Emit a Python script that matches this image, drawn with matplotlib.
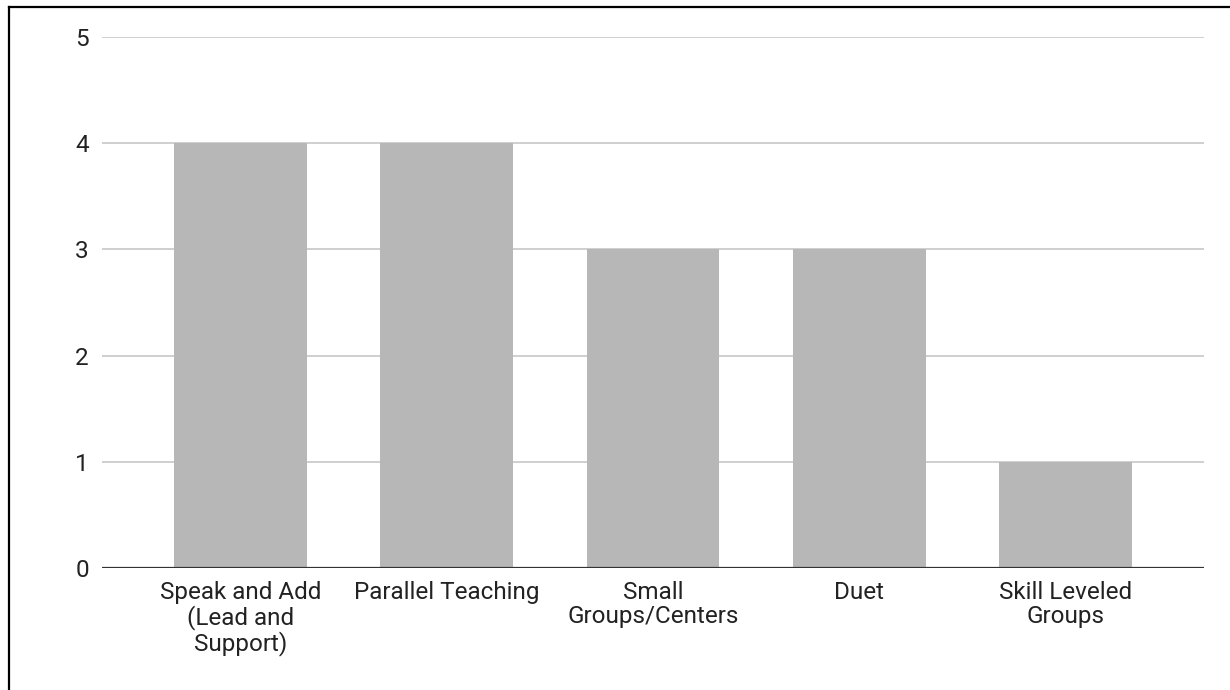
import matplotlib.pyplot as plt
from matplotlib.lines import Line2D

# Data
categories = ['Speak and Add\n(Lead and\nSupport)', 'Parallel Teaching',
              'Small\nGroups/Centers', 'Duet', 'Skill Leveled\nGroups']
values = [4, 4, 3, 3, 1]
y_ticks = [0, 1, 2, 3, 4, 5]

plt.rcParams['font.family'] = ['Roboto', 'DejaVu Sans']

fig = plt.figure(figsize=(12.3, 6.9), dpi=100)
ax = fig.add_axes([102 / 1230, 1 - 568 / 690, 1102 / 1230, 531 / 690])

x = list(range(len(categories)))
ax.bar(x, values, width=0.645, color='#b7b7b7', zorder=2)

ax.set_xlim(-0.674, len(categories) - 1 + 0.674)
ax.set_ylim(0, 5)
ax.set_yticks(y_ticks)
ax.set_xticks(x)
ax.set_xticklabels(categories, linespacing=1.05, multialignment='center')

# Gridlines and baseline
ax.grid(axis='y', color='#cccccc', linewidth=1.3, zorder=0)
ax.set_axisbelow(True)
ax.axhline(0, color='#333333', linewidth=1.6, zorder=3)
for s in ax.spines.values():
    s.set_visible(False)

ax.tick_params(axis='both', length=0, labelsize=17.5, labelcolor='#222222')
ax.tick_params(axis='y', pad=9.5)
ax.tick_params(axis='x', pad=9.5)

# Frame lines from the original screenshot (left and top edges)
fig.add_artist(Line2D([9 / 1230, 9 / 1230], [0, 1 - 7 / 690], color='black', linewidth=1.6))
fig.add_artist(Line2D([9 / 1230, 1], [1 - 7 / 690, 1 - 7 / 690], color='black', linewidth=1.6))

fig.savefig('out.png', dpi=100)
